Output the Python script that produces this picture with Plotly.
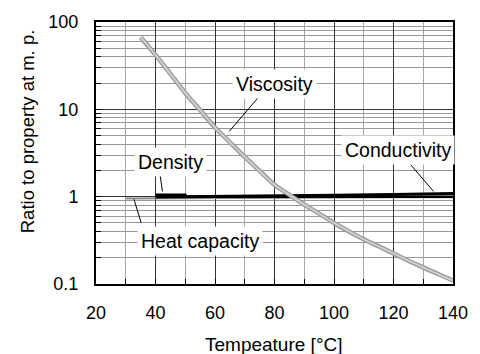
import plotly.graph_objects as go

# ---- data ----
visc_t = [35, 40, 45, 50, 55, 60, 65, 70, 75, 80, 85, 90, 95, 100, 105, 110, 115, 120, 125, 130, 135, 140]
visc_r = [67, 42, 25.5, 15.4, 9.8, 6.2, 4.2, 2.85, 1.97, 1.37, 1.05, 0.81, 0.64, 0.50, 0.40, 0.325, 0.27, 0.224, 0.185, 0.155, 0.13, 0.11]

heat_t = [30, 40, 50, 60, 80, 100, 120, 140]
heat_r = [0.955, 0.96, 0.965, 0.97, 0.975, 0.98, 0.982, 0.985]

dens_t = [40, 50, 50.5, 60, 80, 100, 120, 140]
dens_r = [1.05, 1.05, 1.0, 1.0, 1.0, 1.0, 1.0, 1.0]

cond_t = [40, 60, 80, 100, 120, 140]
cond_r = [0.99, 1.0, 1.02, 1.04, 1.06, 1.09]

x_ticks = [20, 40, 60, 80, 100, 120, 140]
y_ticks = [0.1, 1, 10, 100]
y_ticktext = ["0.1", "1", "10", "100"]

FONT = "Liberation Sans, Arial, sans-serif"

fig = go.Figure()
fig.add_trace(go.Scatter(x=heat_t, y=heat_r, mode="lines",
                         line=dict(color="#8a8a8a", width=2), showlegend=False))
fig.add_trace(go.Scatter(x=cond_t, y=cond_r, mode="lines",
                         line=dict(color="black", width=3), showlegend=False))
fig.add_trace(go.Scatter(x=dens_t, y=dens_r, mode="lines",
                         line=dict(color="black", width=2.5), showlegend=False))
fig.add_trace(go.Scatter(x=visc_t, y=visc_r, mode="lines",
                         line=dict(color="#999999", width=4.5, shape="spline"), showlegend=False))
fig.add_trace(go.Scatter(x=visc_t, y=visc_r, mode="lines",
                         line=dict(color="#cfcfcf", width=2, shape="spline"), showlegend=False))

# geometry helpers (pixel -> data) for label placement
L, R, T, B = 96, 463, 18, 284
def px2x(px):
    return 20 + (px - L) / (R - L) * 120
def py2logy(py):
    return 2 - (py - T) / (B - T) * 3

annotations = []
# leader lines: (tip px, tip py, tail px, tail py)
leaders = [(233, 129, 263, 94), (164.3, 190, 161.7, 171.7), (135, 198, 142.7, 223), (443, 190, 419, 162)]
for tx, ty, sx, sy in leaders:
    annotations.append(dict(x=px2x(tx), y=py2logy(ty), xref="x", yref="y", text="",
                            showarrow=True, arrowhead=0, arrowwidth=1, arrowcolor="black",
                            ax=sx - tx, ay=sy - ty, axref="pixel", ayref="pixel"))
labels = [("Viscosity", 280, 81), ("Density", 173, 160), ("Heat capacity", 203, 240), ("Conductivity", 406, 148)]
for txt, cx, cy in labels:
    annotations.append(dict(x=px2x(cx), y=py2logy(cy), xref="x", yref="y", text=txt,
                            xanchor="center", yanchor="middle",
                            showarrow=False, bgcolor="white", borderpad=3,
                            font=dict(family=FONT, size=19.5, color="black")))
annotations.append(dict(x=(25 - L) / (R - L), y=(B - 129) / (B - T), xref="paper", yref="paper",
                        xanchor="center", yanchor="middle",
                        text="Ratio to property at m. p.", textangle=-90, showarrow=False,
                        font=dict(family=FONT, size=18.5, color="black")))
annotations.append(dict(x=(279 - L) / (R - L), y=(B - 345) / (B - T), xref="paper", yref="paper",
                        xanchor="center", yanchor="middle",
                        text="Tempeature [°C]", showarrow=False,
                        font=dict(family=FONT, size=19, color="black")))

fig.update_layout(
    width=480, height=354,
    margin=dict(l=L, r=480 - R, t=T, b=354 - B),
    paper_bgcolor="white", plot_bgcolor="white",
    annotations=annotations,
    font=dict(family=FONT, size=18, color="black"),
)
fig.update_xaxes(range=[20, 140], tickvals=x_ticks, ticks="inside", ticklen=5, tickcolor="black",
                 showline=True, linecolor="black", linewidth=2, mirror=True,
                 showgrid=True, gridcolor="#333333", gridwidth=1, zeroline=False,
                 ticklabelstandoff=11,
                 minor=dict(dtick=10, tick0=20, ticks="inside", ticklen=5, tickcolor="black",
                            showgrid=True, gridcolor="#a8a8a8", gridwidth=1))
fig.update_yaxes(type="log", range=[-1, 2], tickvals=y_ticks, ticktext=y_ticktext,
                 ticks="inside", ticklen=5, tickcolor="black",
                 showline=True, linecolor="black", linewidth=2, mirror=True,
                 showgrid=True, gridcolor="#333333", gridwidth=1, zeroline=False,
                 ticklabelstandoff=12,
                 minor=dict(dtick="D1", ticks="inside", ticklen=5, tickcolor="black",
                            showgrid=True, gridcolor="#999999", gridwidth=1))

fig.write_html("out.html")
